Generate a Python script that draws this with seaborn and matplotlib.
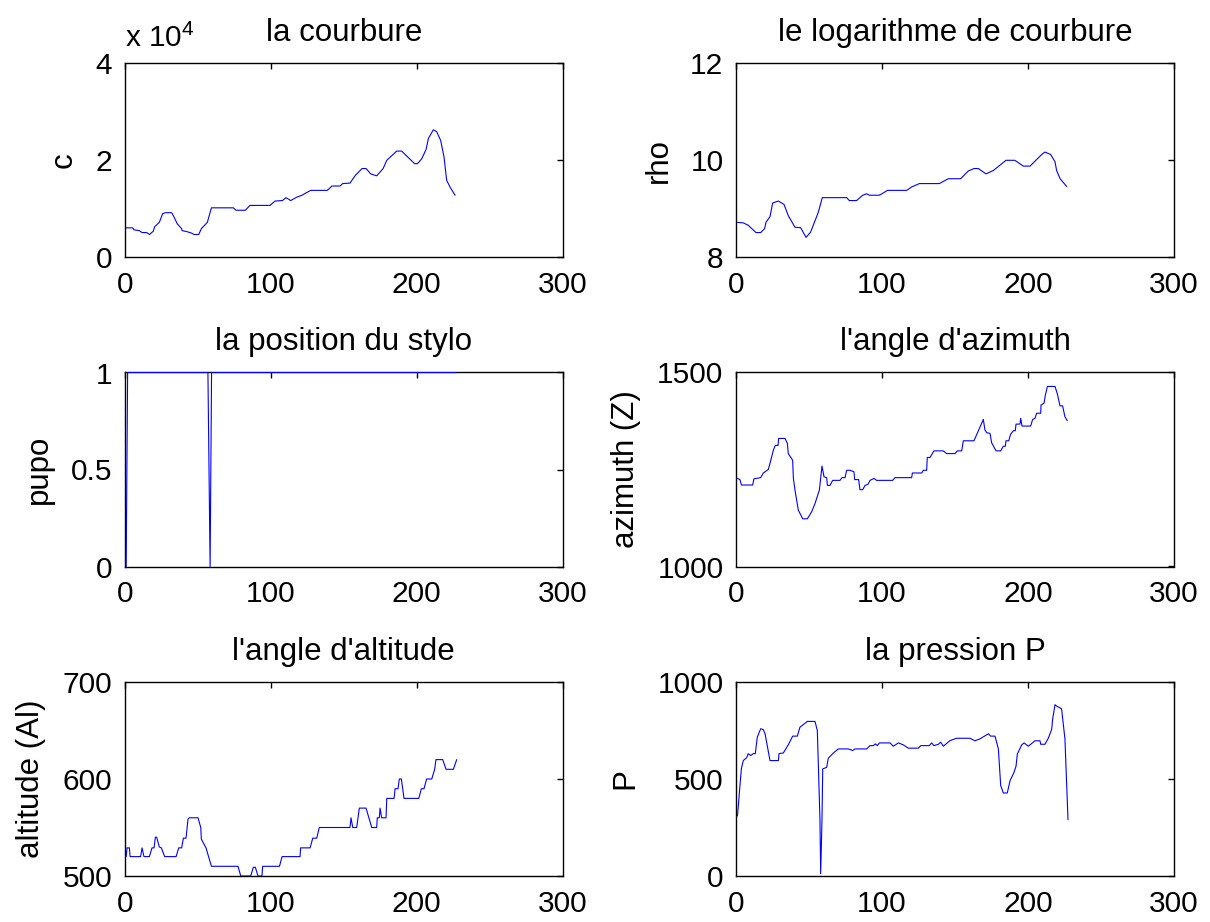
import matplotlib
matplotlib.use("Agg")
import matplotlib.pyplot as plt
from matplotlib.ticker import FuncFormatter
import seaborn as sns
import pandas as pd

# ---- data ----
c_x = [1, 5.5, 6.4, 10, 11.9, 15, 17, 19.6, 20.5, 23.7, 26, 27.9, 32.2, 33.8, 36, 39, 39.3, 42.5, 45.7,
       47.5, 50.7, 52.5, 56.6, 59.4, 74.4, 76.3, 82.6, 85.8, 99.5, 103, 108, 110.5, 113.7, 117.8, 121.5,
       123.7, 127.4, 138.8, 142, 147.5, 149.3, 154.3, 158, 162.6, 165.3, 168.5, 172.6, 177, 179.5, 186.3,
       189.7, 198.6, 200.5, 203.4, 206.4, 208, 211.4, 213.7, 216.4, 218.7, 220.5, 222.8, 226.3]
c_y = [6070, 6070, 5660, 5500, 5100, 5100, 4700, 5400, 6300, 7200, 9000, 9200, 9200, 8300, 6900, 5900,
       5500, 5300, 5000, 4700, 4700, 5900, 7200, 10200, 10200, 9700, 9700, 10700, 10700, 11600, 11700,
       12300, 11700, 12400, 12800, 13200, 13800, 13800, 14700, 14700, 15200, 15300, 16900, 18300, 18300,
       17200, 16800, 18300, 20000, 21900, 21900, 19300, 19300, 20300, 22200, 24500, 26300, 25900, 24100,
       20700, 15900, 14500, 12800]

rho_x = [1, 5, 8.4, 13.7, 16.9, 19.6, 20.5, 23.3, 25.1, 29, 32.9, 35.8, 40.4, 44.3, 48, 51.1, 56.4, 59.1,
         75.8, 77.6, 82.6, 86.8, 89.5, 91.3, 98.2, 100.5, 103.7, 116.9, 120.3, 125.6, 139.3, 145.4, 153.9,
         159.1, 163, 166, 171.2, 176.3, 182, 185, 191, 196.8, 201.4, 209.4, 211.6, 215.5, 218.5, 219.6,
         222, 226.5]
rho_y = [8.72, 8.71, 8.66, 8.51, 8.51, 8.59, 8.72, 8.84, 9.12, 9.16, 9.09, 8.86, 8.62, 8.61, 8.41, 8.52,
         8.93, 9.23, 9.23, 9.17, 9.17, 9.28, 9.31, 9.28, 9.28, 9.32, 9.38, 9.38, 9.45, 9.52, 9.52, 9.62,
         9.62, 9.78, 9.83, 9.83, 9.72, 9.79, 9.93, 10.0, 10.0, 9.88, 9.88, 10.12, 10.17, 10.12, 9.97, 9.79,
         9.62, 9.46]

pupo_x = [1, 2, 57, 58.5, 59.5, 227]
pupo_y = [0, 1, 1, 0, 1, 1]

az_x = [1, 2.7, 3.7, 11.4, 12.3, 16.9, 18.7, 22.1, 23.3, 25.6, 26.9, 28.8, 29.2, 33.6, 35.2, 35.8, 38.8,
        39.3, 40.4, 42.7, 45.7, 48.9, 51.8, 54.1, 57.1, 58.9, 60.3, 62.1, 62.6, 64.4, 66.2, 71.2, 72.6,
        74.7, 75.8, 78.1, 80.8, 81.3, 84, 84.9, 86.8, 88.4, 90.4, 91.8, 94.5, 96.3, 107.3, 108.9, 120.3,
        120.8, 127.2, 128.3, 130.6, 131, 132.9, 135.6, 142, 144.3, 150, 151.6, 154.6, 155.7, 163, 169.4,
        170.5, 171.7, 174, 175.1, 178.1, 181.3, 183.1, 184.5, 184.9, 186.8, 188.1, 190, 191.3, 191.8,
        194.5, 195, 195.9, 201.8, 203.2, 204.8, 205.9, 208.7, 208.9, 211, 211.9, 213.3, 218.5, 220.1,
        221.9, 223.7, 225.3, 226.9]
az_y = [1227, 1224, 1210, 1210, 1226, 1229, 1241, 1250, 1266, 1300, 1312, 1312, 1330, 1330, 1317, 1291,
        1274, 1227, 1197, 1145, 1123, 1123, 1141, 1162, 1197, 1259, 1231, 1229, 1209, 1209, 1222, 1222,
        1229, 1229, 1248, 1248, 1244, 1224, 1224, 1198, 1198, 1209, 1212, 1222, 1227, 1222, 1222, 1229,
        1229, 1241, 1241, 1248, 1248, 1281, 1281, 1298, 1298, 1291, 1291, 1298, 1298, 1324, 1324, 1379,
        1352, 1345, 1343, 1319, 1298, 1298, 1310, 1310, 1324, 1324, 1341, 1350, 1350, 1367, 1367, 1382,
        1362, 1362, 1379, 1382, 1395, 1395, 1416, 1421, 1442, 1464, 1464, 1445, 1414, 1414, 1386, 1376]

alt_x = [1, 1.6, 3.2, 3.7, 10.9, 11.9, 13.2, 16.9, 18.7, 20.1, 21, 21.9, 23.7, 25.1, 27.4, 35.2, 37, 39,
         40.2, 42, 43.4, 44.3, 50.2, 52.1, 52.5, 55.7, 59.4, 77.6, 79.5, 86.3, 88.1, 89.5, 91.3, 94, 94.5,
         106, 107.8, 120.1, 120.5, 127, 128.8, 131.5, 133.3, 154.3, 155, 156.2, 158.9, 160.7, 165.3,
         169.2, 172.6, 173, 174.4, 174.9, 176, 179, 179.5, 184.5, 185.2, 187.2, 188.1, 189.5, 191.3,
         201.4, 203.2, 205, 206.8, 210.3, 212.3, 213.2, 217.8, 220.1, 225.1, 227.4]
alt_y = [520, 529, 529, 520, 520, 529, 520, 520, 529, 529, 540, 540, 530, 529, 520, 520, 529, 529, 539,
         539, 559, 560, 560, 550, 538, 529, 510, 510, 500, 500, 509, 509, 500, 500, 510, 510, 520, 520,
         529, 529, 539, 539, 550, 550, 560, 550, 550, 570, 570, 550, 550, 560, 560, 570, 560, 560, 580,
         580, 590, 590, 600, 600, 580, 580, 590, 590, 600, 600, 610, 620, 620, 610, 610, 620]

p_x = [1, 1.6, 2.7, 3.7, 5, 7.3, 8.4, 10, 11.9, 13.2, 14.6, 16.9, 18.7, 19.9, 23.3, 29, 29.5, 32.4, 35.8,
       38.8, 42, 43.8, 48.9, 54.1, 55.7, 57.5, 58, 58.9, 59.4, 62.1, 63.2, 66.7, 70.1, 76.9, 79.9, 81.5,
       89.5, 91.8, 94.1, 95.4, 96.8, 98.2, 105.5, 107.8, 111.2, 114.6, 118, 124.9, 126.5, 132.4, 134,
       135.6, 138.6, 140.2, 142, 146.6, 151.1, 160.3, 163.7, 167.1, 172.9, 174.4, 177.4, 179.7, 181.3,
       183.1, 185.8, 187.7, 190.4, 191.8, 192.7, 195.7, 197.3, 200.2, 204.8, 208.2, 208.7, 211.6, 213.9,
       216.2, 216.9, 218.5, 219.6, 223, 225.3, 227.4]
p_y = [310, 362, 466, 555, 595, 610, 631, 621, 631, 631, 716, 759, 755, 733, 595, 595, 631, 634, 676,
       721, 721, 767, 797, 797, 750, 293, 12, 293, 552, 560, 607, 634, 655, 655, 647, 655, 655, 672, 672,
       681, 672, 686, 686, 669, 686, 676, 659, 659, 672, 672, 686, 672, 679, 690, 669, 698, 710, 710, 697,
       707, 733, 721, 721, 655, 466, 428, 428, 491, 534, 566, 629, 676, 686, 669, 697, 697, 679, 679, 710,
       755, 810, 883, 876, 862, 707, 290]

titles = ["la courbure", "le logarithme de courbure", "la position du stylo",
          "l'angle d'azimuth", "l'angle d'altitude", "la pression P"]
ylabels = ["c", "rho", "pupo", "azimuth (Z)", "altitude (Al)", "P"]
x_ticks = [0, 100, 200, 300]
y_ticks = [[0, 20000, 40000], [8, 10, 12], [0, 0.5, 1], [1000, 1500], [500, 600, 700], [0, 500, 1000]]

# ---- style ----
sns.set_style("white")
plt.rcParams["font.family"] = ["Liberation Sans", "DejaVu Sans"]
plt.rcParams["text.color"] = "black"
plt.rcParams["axes.labelcolor"] = "black"
plt.rcParams["xtick.color"] = "black"
plt.rcParams["ytick.color"] = "black"
plt.rcParams["mathtext.fontset"] = "custom"
plt.rcParams["mathtext.rm"] = "Liberation Sans"

fig = plt.figure(figsize=(12.1, 9.22), dpi=100)
W, H = 1210, 922
lefts = [124.7, 736.0]
tops = [63.3, 372.5, 682.0]
aw, ah = 438.0, 194.0

series = [(c_x, c_y), (rho_x, rho_y), (pupo_x, pupo_y), (az_x, az_y), (alt_x, alt_y), (p_x, p_y)]

for i, (xs, ys) in enumerate(series):
    r, col = divmod(i, 2)
    ax = fig.add_axes([lefts[col] / W, 1 - (tops[r] + ah) / H, aw / W, ah / H])
    df = pd.DataFrame({"x": xs, "y": ys})
    sns.lineplot(data=df, x="x", y="y", ax=ax, color="#0000ff", linewidth=0.8,
                 estimator=None, sort=False, zorder=3)
    ax.set_xlim(0, 300)
    ax.set_ylim(y_ticks[i][0], y_ticks[i][-1])
    ax.set_xticks(x_ticks)
    ax.set_yticks(y_ticks[i])
    if i == 0:
        ax.yaxis.set_major_formatter(FuncFormatter(lambda v, p: f"{v/1e4:g}"))
        ax.text(0.0, 1.055, r"x 10$^{4}$", transform=ax.transAxes, fontsize=21.5,
                ha="left", va="bottom", color="black")
    elif i == 2:
        ax.yaxis.set_major_formatter(FuncFormatter(lambda v, p: f"{v:g}"))
    ax.set_title(titles[i], fontsize=22.5, pad=16, color="black")
    ax.set_xlabel("")
    ax.set_ylabel(ylabels[i], fontsize=22.5, labelpad=12, color="black")
    ax.tick_params(direction="in", length=4, width=1, top=True, right=True,
                   labelsize=21.5, color="black", labelcolor="black")
    ax.tick_params(axis="x", pad=10)
    ax.tick_params(axis="y", pad=9)
    for s in ax.spines.values():
        s.set_color("black")
        s.set_linewidth(1.0)
        s.set_zorder(2.5)
    ax.set_facecolor("white")

fig.savefig("out.png", dpi=100, facecolor="white")
